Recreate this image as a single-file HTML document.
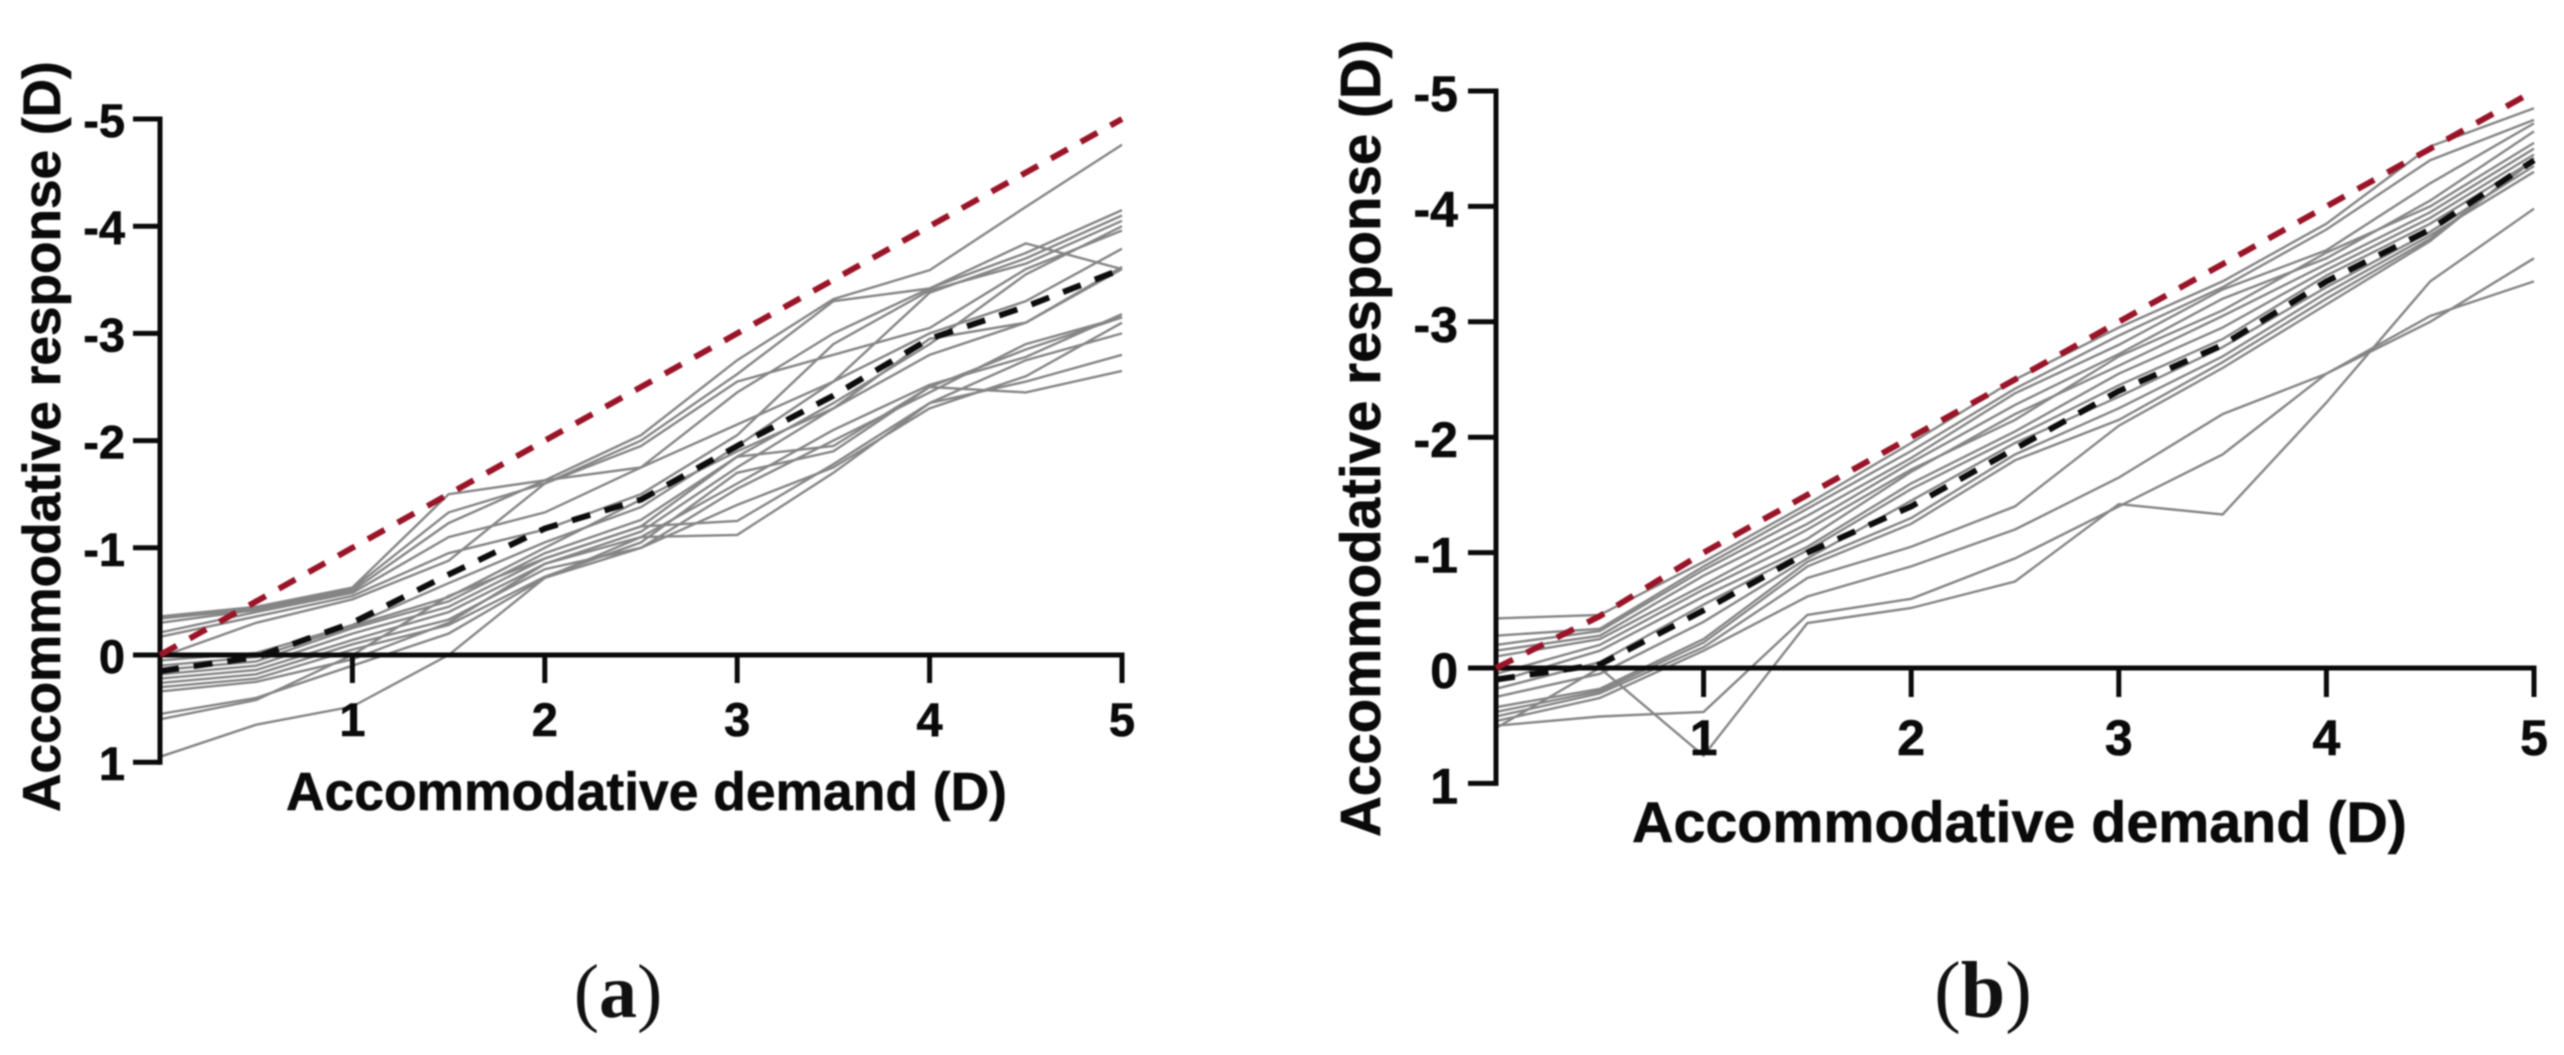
<!DOCTYPE html>
<html lang="en">
<head>
<meta charset="utf-8">
<title>Accommodative response vs demand</title>
<style>
html,body{margin:0;padding:0;background:#fff;width:2564px;height:1055px;overflow:hidden}
svg{display:block;filter:blur(0.7px)}
text{font-family:"Liberation Sans",Arial,sans-serif;font-weight:700;fill:#0a0a0a;stroke:#0a0a0a;stroke-width:0.6px}
.cap{font-family:"Liberation Serif","Times New Roman",serif;font-weight:400;fill:#111;stroke:none}
.cap tspan.b{font-weight:700}
</style>
</head>
<body>
<svg id="fig" xmlns="http://www.w3.org/2000/svg" width="2564" height="1055" viewBox="0 0 2564 1055">
  <rect width="2564" height="1055" fill="#fff"/>
  <g id="panel-a"></g>
  <g id="panel-b"></g>
  <text class="cap" x="618" y="1017" font-size="76" text-anchor="middle">(<tspan class="b">a</tspan>)</text>
  <text class="cap" x="1983" y="1017" font-size="80" text-anchor="middle">(<tspan class="b">b</tspan>)</text>
</svg>
<script>
const demandLevels = [0, 0.5, 1, 1.5, 2, 2.5, 3, 3.5, 4, 4.5, 5];
const xTickValues = [1, 2, 3, 4, 5];
const xTickLabels = ["1", "2", "3", "4", "5"];
const yTickValues = [-5, -4, -3, -2, -1, 0, 1];
const yTickLabels = ["-5", "-4", "-3", "-2", "-1", "0", "1"];

const panelAIdentity = [0, -0.5, -1, -1.5, -2, -2.5, -3, -3.5, -4, -4.5, -5];
const panelAMean = [0.15, 0.02, -0.3, -0.75, -1.18, -1.45, -1.95, -2.42, -2.95, -3.25, -3.6];
const panelASubjects = [
  [-0.36, -0.45, -0.63, -1.50, -1.63, -2.05, -2.75, -3.32, -3.59, -4.18, -4.76],
  [-0.34, -0.43, -0.62, -1.33, -1.60, -2.00, -2.62, -3.30, -3.42, -3.84, -3.60],
  [-0.30, -0.42, -0.60, -1.23, -1.63, -1.75, -2.45, -3.00, -3.42, -3.75, -4.15],
  [-0.21, -0.40, -0.58, -1.10, -1.33, -1.75, -2.15, -2.55, -3.38, -3.70, -4.10],
  [-0.17, -0.36, -0.55, -0.95, -1.17, -1.50, -2.05, -2.90, -3.40, -3.65, -4.05],
  [0.02, -0.30, -0.52, -0.88, -1.60, -1.95, -2.55, -2.80, -3.05, -3.60, -3.96],
  [0.05, -0.02, -0.28, -0.67, -1.05, -1.38, -1.95, -2.55, -3.00, -3.30, -3.79],
  [0.10, 0.02, -0.27, -0.54, -1.00, -1.45, -1.90, -2.30, -2.95, -3.10, -3.62],
  [0.14, 0.06, -0.25, -0.50, -0.95, -1.26, -1.85, -1.95, -2.50, -2.85, -3.15],
  [0.18, 0.10, -0.20, -0.45, -0.90, -1.20, -1.25, -1.78, -2.35, -2.75, -3.00],
  [0.22, 0.14, -0.14, -0.40, -0.85, -1.10, -1.12, -1.70, -2.35, -2.55, -2.80],
  [0.26, 0.18, -0.10, -0.33, -0.80, -1.00, -1.40, -1.75, -2.30, -2.60, -3.10],
  [0.30, 0.22, -0.05, -0.28, -0.73, -1.05, -1.70, -1.90, -2.50, -2.45, -2.65],
  [0.34, 0.25, 0.04, -0.30, -0.85, -1.15, -1.75, -2.30, -2.80, -3.10, -3.60],
  [0.55, 0.40, 0.10, -0.20, -0.72, -1.00, -1.55, -2.00, -2.45, -2.90, -3.15],
  [0.60, 0.42, 0.00, -0.55, -0.90, -1.20, -1.85, -2.35, -2.90, -3.55, -4.00],
  [0.95, 0.65, 0.48, 0.00, -0.72, -1.10, -1.60, -2.10, -2.52, -2.78, -3.18]
];

const panelBIdentity = [0, -0.45, -1, -1.5, -2, -2.5, -3, -3.5, -4, -4.5, -5];
const panelBMean = [0.10, -0.03, -0.5, -1.0, -1.4, -1.9, -2.4, -2.8, -3.35, -3.8, -4.4];
const panelBSubjects = [
  [-0.43, -0.46, -0.92, -1.42, -1.95, -2.50, -2.95, -3.35, -3.85, -4.52, -4.85],
  [-0.28, -0.34, -0.88, -1.38, -1.88, -2.42, -2.88, -3.30, -3.80, -4.40, -4.75],
  [-0.20, -0.32, -0.85, -1.32, -1.82, -2.38, -2.80, -3.28, -3.62, -4.20, -4.72],
  [-0.15, -0.28, -0.80, -1.25, -1.78, -2.28, -2.72, -3.20, -3.55, -4.05, -4.65],
  [-0.10, -0.25, -0.72, -1.20, -1.72, -2.15, -2.70, -3.10, -3.60, -4.00, -4.55],
  [0.05, -0.20, -0.68, -1.12, -1.70, -2.20, -2.62, -3.05, -3.50, -3.95, -4.50],
  [0.12, -0.15, -0.62, -1.05, -1.60, -2.05, -2.55, -2.95, -3.45, -3.90, -4.45],
  [0.18, -0.05, -0.55, -1.02, -1.55, -2.00, -2.45, -2.85, -3.40, -3.85, -4.40],
  [0.25, 0.05, -0.40, -0.95, -1.45, -1.95, -2.35, -2.78, -3.30, -3.78, -4.35],
  [0.34, 0.18, -0.25, -0.92, -1.30, -1.85, -2.25, -2.70, -3.25, -3.75, -4.30],
  [0.38, 0.20, -0.22, -0.88, -1.25, -1.80, -2.15, -2.65, -3.20, -3.72, -4.40],
  [0.42, 0.22, -0.18, -0.78, -1.05, -1.40, -2.10, -2.60, -3.15, -3.70, -4.42],
  [0.46, 0.26, -0.15, -0.62, -0.88, -1.20, -1.65, -2.20, -2.55, -3.00, -3.55],
  [0.50, 0.42, 0.38, -0.46, -0.60, -0.95, -1.40, -1.85, -2.55, -3.05, -3.35],
  [0.52, 0.00, 0.76, -0.39, -0.52, -0.75, -1.42, -1.33, -2.30, -3.35, -3.98]
];

const svgNS = "http://www.w3.org/2000/svg";

function seriesPoints(values, sx, sy) {
  return values.map(function (v, i) { return sx(demandLevels[i]).toFixed(1) + "," + sy(v).toFixed(1); }).join(" ");
}

function drawPanel(root, cfg, subjects, mean, identity) {
  const sx = function (v) { return cfg.x0 + v * cfg.xu; };
  const sy = function (v) { return cfg.y0 + v * cfg.yu; };

  subjects.forEach(function (values) {
    const line = document.createElementNS(svgNS, "polyline");
    
    
    line.setAttribute("points", seriesPoints(values, sx, sy));
    line.setAttribute("fill", "none");
    line.setAttribute("stroke", "#858585");
    line.setAttribute("stroke-width", "2.4");
    root.appendChild(line);
  });

  const yAxis = document.createElementNS(svgNS, "line");
  
  
  yAxis.setAttribute("x1", cfg.x0);
  yAxis.setAttribute("x2", cfg.x0);
  yAxis.setAttribute("y1", sy(-5) - 2.5);
  yAxis.setAttribute("y2", sy(1) + 2.5);
  yAxis.setAttribute("stroke", "#0a0a0a");
  yAxis.setAttribute("stroke-width", "5");
  root.appendChild(yAxis);

  const xAxis = document.createElementNS(svgNS, "line");
  
  
  xAxis.setAttribute("x1", cfg.x0);
  xAxis.setAttribute("x2", sx(5) + 2.5);
  xAxis.setAttribute("y1", sy(0));
  xAxis.setAttribute("y2", sy(0));
  xAxis.setAttribute("stroke", "#0a0a0a");
  xAxis.setAttribute("stroke-width", "5");
  root.appendChild(xAxis);

  yTickValues.forEach(function (v, i) {
    const tick = document.createElementNS(svgNS, "line");
    
    
    tick.setAttribute("x1", cfg.x0 - cfg.tick);
    tick.setAttribute("x2", cfg.x0);
    tick.setAttribute("y1", sy(v));
    tick.setAttribute("y2", sy(v));
    tick.setAttribute("stroke", "#0a0a0a");
    tick.setAttribute("stroke-width", "5");
    root.appendChild(tick);

    const label = document.createElementNS(svgNS, "text");
    
    
    label.setAttribute("x", cfg.x0 - cfg.tick - cfg.labelGap);
    label.setAttribute("y", sy(v) + cfg.tickBase);
    label.setAttribute("text-anchor", "end");
    label.setAttribute("font-size", cfg.tickSize);
    label.textContent = yTickLabels[i];
    root.appendChild(label);
  });

  xTickValues.forEach(function (v, i) {
    const tick = document.createElementNS(svgNS, "line");
    
    
    tick.setAttribute("x1", sx(v));
    tick.setAttribute("x2", sx(v));
    tick.setAttribute("y1", sy(0));
    tick.setAttribute("y2", sy(0) + cfg.tick + 1);
    tick.setAttribute("stroke", "#0a0a0a");
    tick.setAttribute("stroke-width", "5");
    root.appendChild(tick);

    const label = document.createElementNS(svgNS, "text");
    
    
    label.setAttribute("x", sx(v));
    label.setAttribute("y", sy(0) + cfg.xLabelDrop);
    label.setAttribute("text-anchor", "middle");
    label.setAttribute("font-size", cfg.tickSize);
    label.textContent = xTickLabels[i];
    root.appendChild(label);
  });

  const meanLine = document.createElementNS(svgNS, "polyline");
  
  
  meanLine.setAttribute("points", seriesPoints(mean, sx, sy));
  meanLine.setAttribute("fill", "none");
  meanLine.setAttribute("stroke", "#0c0c0c");
  meanLine.setAttribute("stroke-width", "6");
  meanLine.setAttribute("stroke-dasharray", "19 15");
  root.appendChild(meanLine);

  const idLine = document.createElementNS(svgNS, "polyline");
  
  
  idLine.setAttribute("points", seriesPoints(identity, sx, sy));
  idLine.setAttribute("fill", "none");
  idLine.setAttribute("stroke", "#9a1428");
  idLine.setAttribute("stroke-width", "6");
  idLine.setAttribute("stroke-dasharray", "19 15");
  root.appendChild(idLine);

  const yTitle = document.createElementNS(svgNS, "text");
  
  
  yTitle.setAttribute("transform", "translate(" + cfg.yTitleX + "," + cfg.yTitleBottom + ") rotate(-90)");
  yTitle.setAttribute("font-size", cfg.yTitleSize);
  yTitle.textContent = "Accommodative response (D)";
  root.appendChild(yTitle);

  const xTitle = document.createElementNS(svgNS, "text");
  
  
  xTitle.setAttribute("x", cfg.xTitleX);
  xTitle.setAttribute("y", cfg.xTitleY);
  xTitle.setAttribute("font-size", cfg.xTitleSize);
  xTitle.textContent = "Accommodative demand (D)";
  root.appendChild(xTitle);
}

drawPanel(document.getElementById("panel-a"),
  { x0: 160, xu: 192.4, y0: 655, yu: 107.2, tick: 27, labelGap: 8, tickBase: 18, tickSize: 47, xLabelDrop: 81,
    yTitleX: 60, yTitleBottom: 812, yTitleSize: 53.2, xTitleX: 286, xTitleY: 810, xTitleSize: 53.4 },
  panelASubjects, panelAMean, panelAIdentity);

drawPanel(document.getElementById("panel-b"),
  { x0: 1496, xu: 207.6, y0: 668, yu: 115.4, tick: 28, labelGap: 10, tickBase: 20, tickSize: 50, xLabelDrop: 87,
    yTitleX: 1380, yTitleBottom: 837, yTitleSize: 56.5, xTitleX: 1632, xTitleY: 842, xTitleSize: 57.4 },
  panelBSubjects, panelBMean, panelBIdentity);
</script>
</body>
</html>
